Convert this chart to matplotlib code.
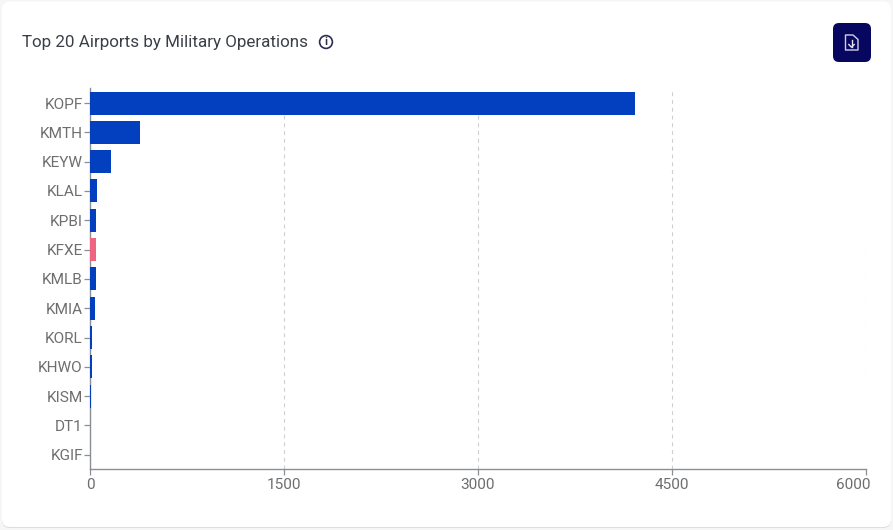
import matplotlib
matplotlib.use("Agg")
import matplotlib.pyplot as plt
from matplotlib.patches import FancyBboxPatch, Circle, Polygon
from matplotlib.lines import Line2D

W, H = 893, 530

airports = ["KOPF", "KMTH", "KEYW", "KLAL", "KPBI", "KFXE", "KMLB", "KMIA",
            "KORL", "KHWO", "KISM", "DT1", "KGIF"]
operations = [4217, 385, 162, 54, 50, 50, 44, 41, 16, 13, 5, 2, 1]
highlight = "KFXE"
xticks = [0, 1500, 3000, 4500, 6000]
title = "Top 20 Airports by Military Operations"

plt.rcParams["font.family"] = ["Roboto", "DejaVu Sans"]
fig = plt.figure(figsize=(W / 100, H / 100), dpi=100, facecolor="#f6f6f6")

# overlay in pixel coordinates for the card and its icons
bg = fig.add_axes([0, 0, 1, 1], zorder=0)
bg.set_xlim(0, W)
bg.set_ylim(H, 0)
bg.axis("off")
bg.add_patch(FancyBboxPatch((2, 3), W - 4, H - 5, boxstyle="round,pad=0,rounding_size=8",
                            fc="#dedede", ec="none"))
bg.add_patch(FancyBboxPatch((2, 1.5), W - 4, H - 4.5, boxstyle="round,pad=0,rounding_size=8",
                            fc="white", ec="none"))
bg.text(22, 42.5, title, fontsize=12.22, color="#3a3f47", va="center", ha="left")

# info icon
bg.add_patch(Circle((326, 42), 6.4, fc="none", ec="#2b2d50", lw=1.2))
bg.text(326, 42.3, "i", fontsize=8, color="#2b2d50", ha="center", va="center", fontweight="bold")

# download button
bg.add_patch(FancyBboxPatch((833, 23), 38, 39, boxstyle="round,pad=0,rounding_size=6",
                            fc="#07075f", ec="none"))
bg.add_patch(Polygon([(845.5, 35), (853, 35), (858, 39.5), (858, 50), (845.5, 50)],
                     closed=True, fc="none", ec="#cfcfe6", lw=1.0, joinstyle="round"))
bg.add_line(Line2D([851.5, 851.5], [40, 47], color="#e4e4f2", lw=1.0))
bg.add_line(Line2D([848.8, 851.5, 854.2], [44.5, 47.2, 44.5], color="#e4e4f2", lw=1.0))

# chart
x0, x1, y0, y1 = 90.0, 865.7, 88.4, 469.4
ax = fig.add_axes([x0 / W, 1 - y1 / H, (x1 - x0) / W, (y1 - y0) / H], zorder=1)
ax.patch.set_alpha(0)
positions = list(range(len(airports)))
colors = ["#ee6581" if a == highlight else "#0240c0" for a in airports]
ax.barh(positions, operations, height=0.785, color=colors, zorder=3)
ax.set_ylim(len(airports) - 0.5, -0.5)
ax.set_xlim(0, 6000)
ax.set_yticks(positions, airports)
ax.set_xticks(xticks, [str(t) for t in xticks])
ax.grid(axis="x", color="#cfcfcf", lw=0.8, ls=(0, (3.5, 3.5)), zorder=0)
ax.grid(axis="y", visible=False)
for s in ("top", "right"):
    ax.spines[s].set_visible(False)
for s in ("left", "bottom"):
    ax.spines[s].set_color("#8a8f96")
    ax.spines[s].set_linewidth(1.0)
    ax.spines[s].set_zorder(2)
ax.tick_params(axis="y", length=4, width=0.9, color="#8a8f96", labelcolor="#6e6e6e",
               labelsize=11.1, pad=1.2)
ax.tick_params(axis="x", length=4, width=0.9, color="#8a8f96", labelcolor="#6e6e6e",
               labelsize=11.1, pad=2.2)
# the last x label sits inside the card, ending past its tick
last = ax.get_xticklabels()[-1]
last.set_ha("right")
last.set_transform(last.get_transform() + matplotlib.transforms.ScaledTranslation(4.5 / 100, 0, fig.dpi_scale_trans))
fig.savefig("out.png", dpi=100, facecolor=fig.get_facecolor())
